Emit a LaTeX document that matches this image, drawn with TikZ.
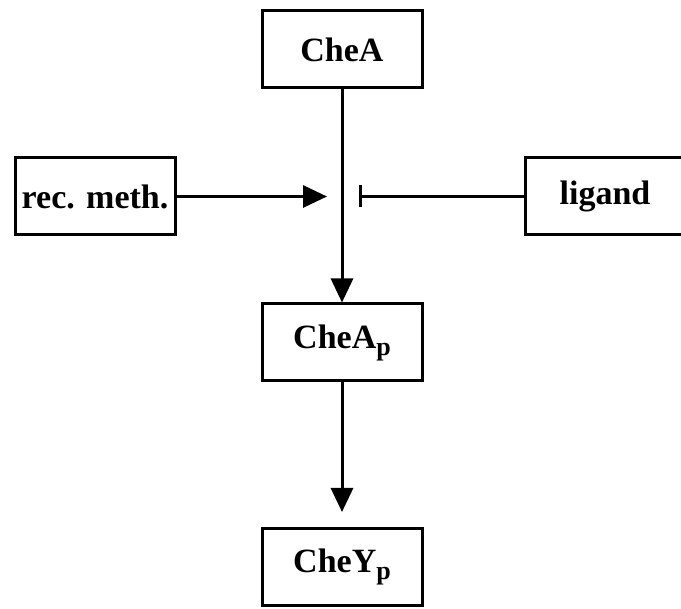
\documentclass[tikz,border=0pt]{standalone}
\usepackage{fontspec}
\setmainfont{Liberation Serif}
\usetikzlibrary{arrows.meta}
\newcommand{\subp}{\raisebox{-7pt}{\fontsize{26}{26}\selectfont p}}
\begin{document}
\begin{tikzpicture}[x=1pt,y=-1pt,
  box/.style={draw=black, line width=3pt, rectangle, inner sep=0pt,
    minimum width=160pt, minimum height=77pt,
    font=\fontsize{34}{40}\selectfont\bfseries},
  conn/.style={line width=3pt},
  tri/.style={-{Triangle[length=24pt,width=22pt]}},
  inh/.style={-{Bar[width=22pt,line width=2.8pt]}}]
\useasboundingbox (0,0) rectangle (681,609);
\fill[white] (0,0) rectangle (681,609);
\node[box] (chea)  at (342,49.5)  {CheA};
\node[box] (rec)   at (95,196.5)  {rec. meth.};
\node[box] (lig)   at (605,196.5) {ligand};
\node[box] (cheap) at (342,342.5) {CheA\subp};
\node[box] (cheyp) at (342,567)   {CheY\subp};
\coordinate (ra) at (327,196.5);
\coordinate (la) at (359,196.5);
\draw[conn,tri] (chea.south) -- (cheap.north);
\draw[conn,tri] (rec.east) -- (ra);
\draw[conn,inh] (lig.west) -- (la);
\draw[conn,tri,shorten >=15pt] (cheap.south) -- (cheyp.north);
\end{tikzpicture}
\end{document}
